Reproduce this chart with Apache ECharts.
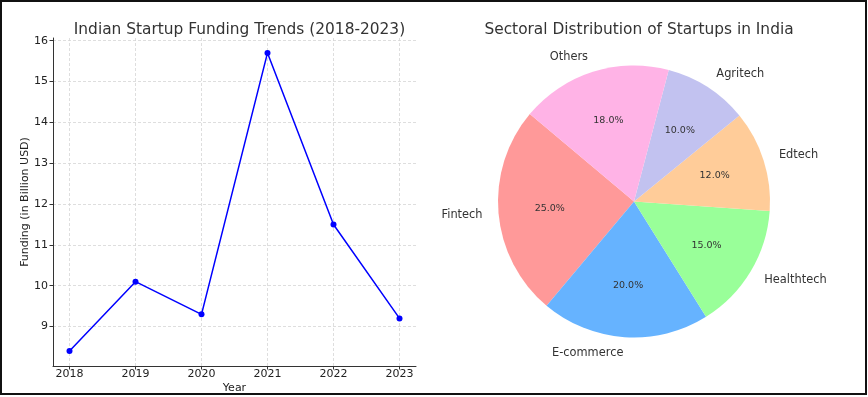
<!DOCTYPE html>
<html>
<head>
<meta charset="utf-8">
<script src="https://cdn.jsdelivr.net/npm/echarts@6/dist/echarts.min.js"></script>
<style>
html,body{margin:0;padding:0;background:#fff;}
#main{width:868px;height:397px;}
</style>
</head>
<body>
<div id="main"></div>
<script>
// Line chart data
const years = [2018, 2019, 2020, 2021, 2022, 2023];
const funding = [8.4, 10.1, 9.3, 15.7, 11.5, 9.2];
const yTicks = [9, 10, 11, 12, 13, 14, 15, 16];

// Pie chart data
const sectors = ['Fintech', 'E-commerce', 'Healthtech', 'Edtech', 'Agritech', 'Others'];
const shares = [25, 20, 15, 12, 10, 18];
const sectorColors = ['#ff9999', '#66b3ff', '#99ff99', '#ffcc99', '#c2c2f0', '#ffb3e6'];

const FONT = 'DejaVu Sans';
const R = 136;

const pieData = sectors.map((s, i) => ({ name: s, value: shares[i], itemStyle: { color: sectorColors[i] } }));
const pctData = sectors.map((s, i) => ({ name: s, value: shares[i] }));
const total = shares.reduce((a, b) => a + b, 0);

const chart = echarts.init(document.getElementById('main'), null, { renderer: 'canvas' });
chart.setOption({
  backgroundColor: '#fff',
  animation: false,
  textStyle: { fontFamily: FONT },
  title: [
    { text: 'Indian Startup Funding Trends (2018-2023)', left: 234.5, top: 17, textAlign: 'center',
      textStyle: { fontFamily: FONT, fontSize: 15.4, fontWeight: 'normal', color: '#333' } },
    { text: 'Sectoral Distribution of Startups in India', left: 634, top: 17, textAlign: 'center',
      textStyle: { fontFamily: FONT, fontSize: 15.4, fontWeight: 'normal', color: '#333' } }
  ],
  graphic: [
    { type: 'rect', shape: { x: 1, y: 1, width: 865, height: 393 }, style: { fill: 'none', stroke: '#111', lineWidth: 2 }, silent: true, z: 100 }
  ],
  grid: { left: 53, right: 452, top: 38, bottom: 31, containLabel: false, outerBoundsMode: 'none' },
  xAxis: {
    type: 'value', min: 2017.75, max: 2023.25,
    name: 'Year', nameLocation: 'middle', nameGap: 17, nameMoveOverlap: false,
    nameTextStyle: { fontFamily: FONT, fontSize: 11, color: '#222', verticalAlign: 'top' },
    axisLine: { show: true, onZero: false, lineStyle: { color: '#333', width: 1 } },
    axisTick: { show: true, length: 3.5, customValues: years, lineStyle: { color: '#333' } },
    axisLabel: { customValues: years, margin: 3, fontFamily: FONT, fontSize: 11, color: '#222', formatter: v => String(v) },
    splitLine: { show: true, lineStyle: { color: '#d6d6d6', type: [3, 2], width: 0.8 } }
  },
  yAxis: {
    type: 'value', min: 8.035, max: 16.065,
    name: 'Funding (in Billion USD)', nameLocation: 'middle', nameGap: 22, nameRotate: 90, nameMoveOverlap: false,
    nameTextStyle: { fontFamily: FONT, fontSize: 11, color: '#222' },
    axisLine: { show: true, onZero: false, lineStyle: { color: '#333', width: 1 } },
    axisTick: { show: true, length: 3.5, customValues: yTicks, lineStyle: { color: '#333' } },
    axisLabel: { customValues: yTicks, margin: 5, fontFamily: FONT, fontSize: 11, color: '#222' },
    splitLine: { show: true, lineStyle: { color: '#d6d6d6', type: [3, 2], width: 0.8 } }
  },
  series: [
    {
      type: 'line',
      data: years.map((y, i) => [y, funding[i]]),
      symbol: 'circle', symbolSize: 6,
      lineStyle: { color: '#0000ff', width: 1.5 },
      itemStyle: { color: '#0000ff' },
      clip: false
    },
    {
      type: 'pie',
      center: [634, 201.5],
      radius: [0, R],
      startAngle: 140,
      clockwise: false,
      avoidLabelOverlap: false,
      silent: true,
      data: pieData,
      itemStyle: { borderWidth: 0 },
      label: {
        show: true, position: 'outside', fontFamily: FONT, fontSize: 11.4, color: '#333',
        distanceToLabelLine: 0, formatter: '{b}'
      },
      labelLine: { show: false, length: 16, length2: 0 },
      emphasis: { disabled: true }
    },
    {
      type: 'pie',
      center: [634, 201.5],
      radius: [0, R * 1.2],
      startAngle: 140,
      clockwise: false,
      avoidLabelOverlap: false,
      silent: true,
      data: pctData,
      itemStyle: { color: 'rgba(0,0,0,0)', borderWidth: 0 },
      label: {
        show: true, position: 'inside', fontFamily: FONT, fontSize: 9.5, color: '#333',
        formatter: p => (p.value / total * 100).toFixed(1) + '%'
      },
      labelLine: { show: false },
      emphasis: { disabled: true }
    }
  ]
});
</script>
</body>
</html>
